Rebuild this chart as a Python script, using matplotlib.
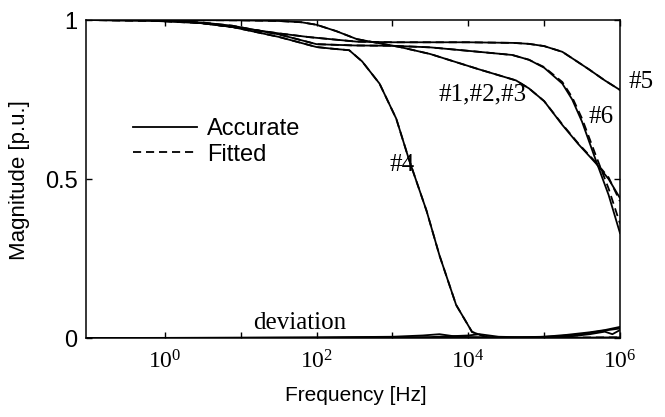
import numpy as np
import matplotlib
matplotlib.use("Agg")
import matplotlib.pyplot as plt
from matplotlib.ticker import FuncFormatter, NullFormatter

# ---------------- data (log10 of frequency in Hz, magnitude in p.u.) ----------------
lf_123 = [-1.04, 0.0, 1.0, 1.5, 1.8, 2.0, 2.26, 2.53, 2.8, 3.1, 3.5, 4.14, 4.63, 4.8, 5.0, 5.24, 5.45, 5.68, 5.85, 6.0]
acc_123 = [1.0, 1.0, 0.999, 0.997, 0.993, 0.985, 0.965, 0.94, 0.928, 0.915, 0.893, 0.845, 0.81, 0.785, 0.745, 0.67, 0.61, 0.55, 0.50, 0.44]
fit_123 = [1.0, 1.0, 0.999, 0.997, 0.993, 0.985, 0.965, 0.94, 0.928, 0.915, 0.893, 0.845, 0.81, 0.785, 0.745, 0.672, 0.612, 0.553, 0.505, 0.43]

lf_4 = [-1.04, -0.2, 0.5, 0.89, 1.5, 2.0, 2.2, 2.43, 2.6, 2.83, 3.05, 3.22, 3.45, 3.62, 3.84, 4.05, 4.24, 4.5, 5.0, 6.0]
acc_4 = [1.0, 0.998, 0.99, 0.978, 0.947, 0.915, 0.91, 0.905, 0.87, 0.80, 0.69, 0.56, 0.40, 0.26, 0.104, 0.019, 0.003, 0.0, 0.001, 0.002]
fit_4 = [1.0, 0.998, 0.99, 0.978, 0.947, 0.915, 0.91, 0.905, 0.87, 0.80, 0.69, 0.56, 0.40, 0.26, 0.104, 0.019, 0.003, 0.0, 0.001, 0.002]

lf_5 = [-1.04, 0.24, 1.0, 1.5, 1.91, 2.53, 3.0, 4.0, 4.6, 4.8, 5.0, 5.24, 5.4, 5.59, 5.8, 6.0]
acc_5 = [1.0, 0.997, 0.975, 0.958, 0.946, 0.932, 0.93, 0.93, 0.928, 0.925, 0.918, 0.90, 0.875, 0.845, 0.81, 0.78]
fit_5 = [1.0, 0.997, 0.975, 0.958, 0.946, 0.932, 0.93, 0.93, 0.928, 0.925, 0.918, 0.90, 0.875, 0.845, 0.81, 0.78]

lf_6 = [-1.04, -0.2, 0.5, 0.89, 1.5, 2.0, 2.5, 3.0, 3.5, 4.14, 4.58, 4.8, 5.0, 5.24, 5.37, 5.5, 5.68, 5.85, 6.0]
acc_6 = [1.0, 0.999, 0.992, 0.982, 0.955, 0.924, 0.92, 0.919, 0.914, 0.90, 0.89, 0.875, 0.85, 0.80, 0.75, 0.68, 0.56, 0.45, 0.33]
fit_6 = [1.0, 0.999, 0.992, 0.982, 0.955, 0.924, 0.92, 0.919, 0.914, 0.90, 0.89, 0.875, 0.852, 0.805, 0.757, 0.69, 0.575, 0.47, 0.36]

lf_dev1 = [-1.04, 1.0, 2.0, 3.0, 3.4, 3.62, 3.8, 4.0, 4.5, 5.0, 5.3, 5.6, 5.8, 6.0]
dev1 = [0.0, 0.001, 0.002, 0.004, 0.008, 0.012, 0.006, 0.003, 0.002, 0.004, 0.010, 0.018, 0.025, 0.035]
lf_dev2 = [-1.04, 2.0, 3.5, 4.0, 4.15, 4.4, 4.8, 5.2, 5.5, 5.75, 6.0]
dev2 = [0.0, 0.001, 0.003, 0.008, 0.012, 0.004, 0.002, 0.006, 0.012, 0.022, 0.030]
lf_dev3 = [-1.04, 3.0, 4.5, 5.3, 5.6, 5.8, 5.9, 6.0]
dev3 = [0.0, 0.001, 0.001, 0.004, 0.012, 0.020, 0.012, 0.025]

labels_series = ["#1,#2,#3", "#4", "#5", "#6"]
legend_labels = ["Accurate", "Fitted"]
xtick_exp = [0, 2, 4, 6]
xminor_exp = [1, 3, 5]
yticks = [0, 0.5, 1]
ytick_labels = ["0", "0.5", "1"]

# ---------------- figure ----------------
plt.rcParams["mathtext.fontset"] = "custom"
plt.rcParams["mathtext.rm"] = "Liberation Serif"
plt.rcParams["mathtext.it"] = "Liberation Serif:italic"

fig = plt.figure(figsize=(6.65, 4.17), dpi=100)
ax = fig.add_axes([0.1293, 0.1894, 0.803, 0.7626])

lw = 1.3
def f(lst):
    return 10 ** np.asarray(lst, dtype=float)

acc_lines = []
for lf_, a_ in [(lf_123, acc_123), (lf_4, acc_4), (lf_5, acc_5), (lf_6, acc_6)]:
    l, = ax.plot(f(lf_), a_, color="black", lw=lw, solid_joinstyle="round")
    acc_lines.append(l)
fit_lines = []
for lf_, v_ in [(lf_123, fit_123), (lf_4, fit_4), (lf_5, fit_5), (lf_6, fit_6)]:
    l, = ax.plot(f(lf_), v_, color="black", lw=lw, dashes=(4.5, 2.7))
    fit_lines.append(l)
for lf_, d_ in [(lf_dev1, dev1), (lf_dev2, dev2), (lf_dev3, dev3)]:
    ax.plot(f(lf_), d_, color="black", lw=lw)

ax.set_xscale("log")
ax.set_xlim(10 ** -1.04, 1e6)
ax.set_ylim(0, 1)

ax.set_xticks([10.0 ** e for e in xtick_exp])
ax.set_xticks([10.0 ** e for e in xminor_exp], minor=True)
ax.xaxis.set_major_formatter(FuncFormatter(lambda v, p: r"$\mathregular{10^{%d}}$" % int(round(np.log10(v)))))
ax.xaxis.set_minor_formatter(NullFormatter())
ax.set_yticks(yticks)
ax.set_yticklabels(ytick_labels)

ax.tick_params(which="both", direction="in", top=True, right=True, length=4, width=1)
ax.tick_params(axis="x", which="major", pad=9)
ax.tick_params(axis="y", which="major", pad=6)
for t in ax.get_xticklabels():
    t.set_fontfamily("Liberation Serif")
    t.set_fontsize(17)
for t in ax.get_yticklabels():
    t.set_fontfamily("Liberation Sans")
    t.set_fontsize(17)
for s in ax.spines.values():
    s.set_linewidth(1.1)

ax.set_xlabel("Frequency [Hz]", fontfamily="Liberation Sans", fontsize=15)
ax.set_ylabel("Magnitude [p.u.]", fontfamily="Liberation Sans", fontsize=16)
ax.xaxis.set_label_coords(0.506, -0.150)
ax.yaxis.set_label_coords(-0.105, 0.497)

serif = dict(fontfamily="Liberation Serif", fontsize=18, ha="center", va="center",
             transform=ax.transAxes, clip_on=False)
ax.text(0.743, 0.767, labels_series[0], **serif)
ax.text(0.592, 0.544, labels_series[1], **serif)
ax.text(1.039, 0.805, labels_series[2], **serif)
ax.text(0.964, 0.695, labels_series[3], **serif)
ax.text(0.401, 0.046, "deviation", **serif)

leg = ax.legend([acc_lines[0], fit_lines[0]], legend_labels, loc="upper left",
                bbox_to_anchor=(0.088, 0.692), frameon=False, borderpad=0,
                borderaxespad=0, handlelength=2.7, handletextpad=0.42,
                labelspacing=0.15, prop={"family": "Liberation Sans", "size": 17})

fig.savefig("out.png", dpi=100)
